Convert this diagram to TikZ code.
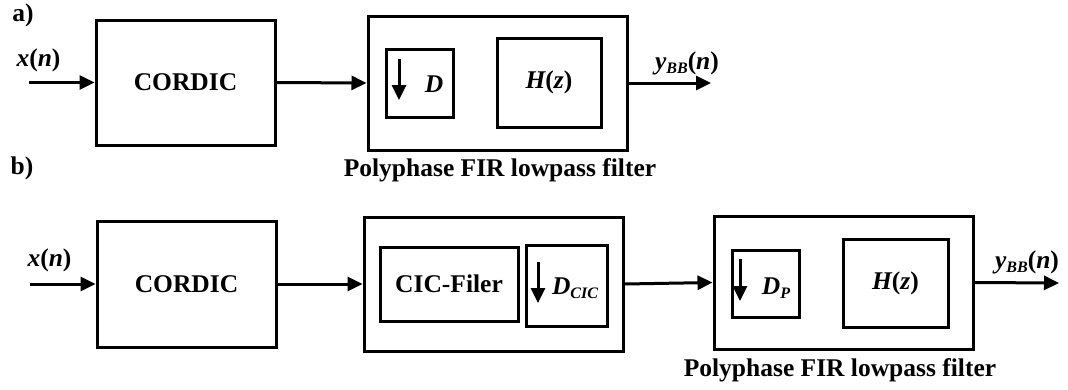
\documentclass[tikz,border=0pt]{standalone}
\usepackage{fontspec}
\setmainfont{Liberation Serif}
\usetikzlibrary{arrows.meta}
\newcommand\bi[1]{{\bfseries\itshape #1}}
\newcommand\sbs[1]{\raisebox{-4pt}{\fontsize{16}{16}\selectfont\bfseries\itshape #1}}
\begin{document}
\begin{tikzpicture}[x=1pt,y=-1pt,
  blk/.style={draw, line width=3pt, rectangle, inner sep=0pt, font=\fontsize{25.5}{30}\selectfont\bfseries},
  txt/.style={inner sep=0pt, font=\fontsize{25.5}{30}\selectfont\bfseries},
  sig/.style={line width=3pt, -{Triangle[length=15pt,width=14pt]}},
]
\useasboundingbox (0,0) rectangle (1068,389);

% ---------- a) ----------
\node[txt] (la) at (23,15) {a)};
\node[txt] (xa) at (38.5,60) {\bi{x}(\bi{n})};
\coordinate (ina) at (29,82.5);
\node[blk, minimum width=179pt, minimum height=125pt] (cordA) at (185.5,82.5) {CORDIC};
\node[blk, minimum width=259pt, minimum height=134pt] (polyA) at (497.5,83) {};
\node[blk, minimum width=67pt, minimum height=68pt] (dA) at (419.5,83) {};
\node[blk, minimum width=104pt, minimum height=89pt] (hA) at (549,82.5) {\bi{H}(\bi{z})};
\node[txt] (dAt) at (434,84) {\bi{D}};
\coordinate (dAs) at (399,59);
\coordinate (dAe) at (399,100);
\coordinate (outa) at (711,83);
\node[txt] (ya) at (687,63) {\bi{y}\sbs{BB}(\bi{n})};
\node[txt] (pla) at (500,170) {Polyphase FIR lowpass filter};

\draw[sig] (ina) -- (cordA.west);
\draw[sig] (cordA.east) -- (polyA.west);
\draw[sig] (polyA.east) -- (outa);
\draw[sig] (dAs) -- (dAe);

% ---------- b) ----------
\node[txt] (lb) at (22,168) {b)};
\node[txt] (xb) at (49.5,260) {\bi{x}(\bi{n})};
\coordinate (inb) at (30,284);
\node[blk, minimum width=179pt, minimum height=126pt] (cordB) at (186.5,284) {CORDIC};
\node[blk, minimum width=259pt, minimum height=134pt] (cicO) at (493.5,284) {};
\node[blk, minimum width=138pt, minimum height=74pt] (cicF) at (449,284) {CIC-Filer};
\node[blk, minimum width=81pt, minimum height=81pt] (dC) at (566.5,285.5) {};
\node[txt] (dCt) at (575,288) {\bi{D}\sbs{CIC}};
\coordinate (dCs) at (538,262);
\coordinate (dCe) at (538,303);
\node[blk, minimum width=259pt, minimum height=133pt] (polyB) at (843.5,282.5) {};
\node[blk, minimum width=67pt, minimum height=67pt] (dP) at (765.5,283.5) {};
\node[txt] (dPt) at (776,288) {\bi{D}\sbs{P}};
\coordinate (dPs) at (740,259);
\coordinate (dPe) at (740,301);
\node[blk, minimum width=105pt, minimum height=88pt] (hB) at (895.5,283) {\bi{H}(\bi{z})};
\coordinate (outb) at (1059,283);
\node[txt] (yb) at (1027,262) {\bi{y}\sbs{BB}(\bi{n})};
\node[txt] (plb) at (840,370) {Polyphase FIR lowpass filter};

\draw[sig] (inb) -- (cordB.west);
\draw[sig] (cordB.east) -- (cicO.west);
\draw[sig] (cicO.east) -- (polyB.west);
\draw[sig] (polyB.east) -- (outb);
\draw[sig] (dCs) -- (dCe);
\draw[sig] (dPs) -- (dPe);
\end{tikzpicture}
\end{document}
